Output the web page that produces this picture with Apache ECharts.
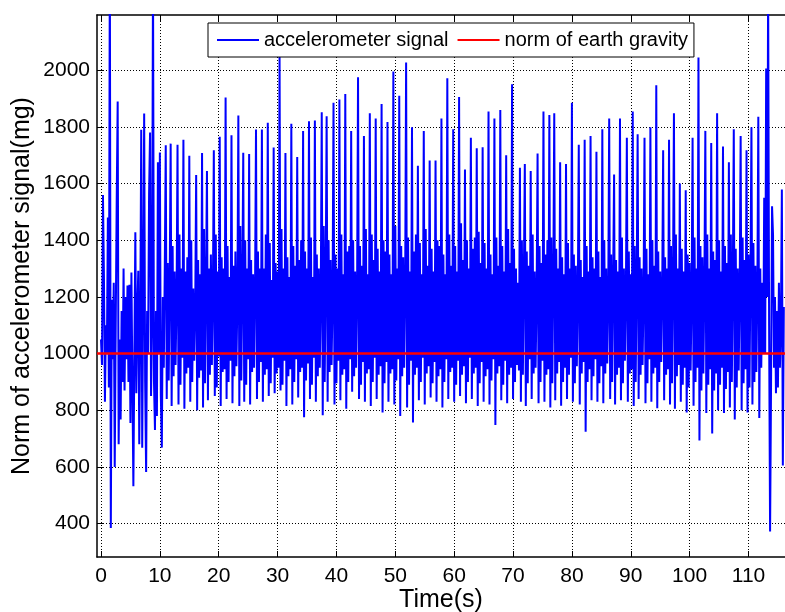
<!DOCTYPE html>
<html>
<head>
<meta charset="utf-8">
<script src="https://cdn.jsdelivr.net/npm/echarts@6.0.0/dist/echarts.min.js"></script>
<style>
html,body{margin:0;padding:0;background:#fff;}
#chart{width:785px;height:612px;}
</style>
</head>
<body>
<div id="chart"></div>
<script>
// ---------------- data ----------------
const sampleRate = 6; // samples per second of the accelerometer signal
const seriesNames = ['accelerometer signal', 'norm of earth gravity'];
// norm of accelerometer signal (mg), one line ~ one step cycle
const accelSignal = [
  1050, 960, 1560, 1270, 830, 1100, 1000, 1480, 880, 2400,
  384, 1190, 980, 1250, 600, 1100, 1540, 1890, 680, 1050,
  767, 1150, 900, 1300, 870, 1200, 980, 1240, 900, 1243,
  755, 1286, 900, 532, 1000, 1428, 860, 1150, 1292, 680,
  1100, 1790, 668, 1200, 1847, 900, 582, 1150, 1000, 1564,
  1780, 850, 1100, 2350, 900, 730, 1150, 780, 1675, 1000,
  1710, 850, 668, 1200, 950, 1300,
  1735, 840, 1320, 905, 1250,
  1741, 815, 1380, 920, 1290, 960, 1180,
  1737, 820, 1420, 890, 1300, 985,
  1755, 805, 1290, 930, 1340, 950,
  1698, 830, 1400, 900, 1230, 975, 1150,
  1630, 800, 1330, 915, 1280, 940,
  1708, 810, 1440, 895, 1240,
  1644, 835, 1300, 925, 1350, 960, 1200,
  1718, 850, 1420, 880, 1290, 990,
  1765, 815, 1340, 935, 1300, 945,
  1904, 840, 1380, 900, 1270, 975,
  1771, 825, 1310, 920, 1360, 955, 1180,
  1840, 815, 1450, 905, 1230,
  1709, 830, 1400, 890, 1300, 980,
  1704, 820, 1330, 935, 1280, 950, 1220,
  1791, 840, 1360, 900, 1300, 970,
  1791, 830, 1300, 925, 1420, 945,
  1815, 850, 1390, 895, 1260, 985,
  1727, 860, 1320, 930, 1290, 950,
  2050, 870, 1440, 890, 1300, 975,
  1708, 815, 1340, 920, 1270, 945,
  1811, 820, 1380, 900, 1310, 980,
  1694, 845, 1330, 935, 1400, 950,
  1786, 775, 1360, 905, 1300, 965,
  1820, 840, 1410, 890, 1270, 985,
  1823, 830, 1350, 920, 1300, 950, 1200,
  1852, 782, 1450, 900, 1260,
  1838, 830, 1400, 935, 1330, 960, 1180,
  1885, 820, 1350, 895, 1300, 975,
  1897, 835, 1420, 925, 1280, 945,
  1916, 805, 1360, 900, 1380, 980,
  1786, 865, 1400, 920, 1290, 950, 1200,
  1975, 840, 1380, 890, 1310, 970,
  1768, 830, 1440, 930, 1280, 945,
  1848, 815, 1420, 900, 1330, 985,
  1830, 840, 1370, 925, 1290, 955,
  1881, 792, 1400, 895, 1360, 970,
  1817, 830, 1350, 930, 1280, 945,
  1996, 820, 1450, 905, 1300, 980,
  1910, 780, 1380, 920, 1340, 950, 1210,
  2027, 810, 1410, 890, 1290, 975,
  1799, 757, 1360, 925, 1420, 950,
  1663, 835, 1390, 900, 1280, 985,
  1786, 820, 1440, 930, 1310, 955,
  1681, 845, 1370, 895, 1290, 970,
  1681, 830, 1400, 920, 1380, 945,
  1830, 810, 1350, 900, 1280, 980,
  1972, 840, 1420, 935, 1310, 950,
  1792, 830, 1380, 890, 1290, 975,
  1906, 850, 1460, 925, 1330, 955,
  1650, 825, 1400, 900, 1300, 985,
  1762, 840, 1370, 930, 1410, 950,
  1725, 815, 1430, 895, 1320, 970,
  1728, 830, 1390, 920, 1300, 945,
  1854, 820, 1350, 905, 1280, 980,
  1830, 748, 1410, 930, 1310, 955,
  1860, 835, 1380, 890, 1290, 975,
  1700, 825, 1440, 925, 1320, 950,
  1951, 840, 1370, 900, 1300, 960, 1250, 940,
  1656, 830, 1400, 925, 1270,
  1669, 815, 1360, 895, 1310, 980,
  1644, 840, 1420, 930, 1290, 950, 1200,
  1706, 825, 1380, 900, 1320, 975,
  1854, 830, 1350, 925, 1400, 945,
  1842, 810, 1410, 895, 1250,
  1848, 835, 1370, 930, 1300, 970,
  1675, 816, 1340, 900, 1280, 950,
  1669, 840, 1390, 925, 1300, 985,
  1885, 830, 1350, 895, 1310, 955, 1200,
  1737, 820, 1330, 930, 1270, 970,
  1755, 724, 1380, 900, 1290, 945,
  1768, 835, 1340, 920, 1300, 980,
  1712, 830, 1360, 895, 1270, 955,
  1792, 825, 1400, 930, 1300, 965, 1180,
  1830, 840, 1350, 900, 1260,
  1632, 820, 1330, 925, 1290, 950,
  1830, 835, 1410, 895, 1300, 975, 1200,
  1762, 830, 1360, 930, 1280, 945,
  1854, 815, 1380, 900, 1250,
  1774, 840, 1340, 925, 1300, 960, 1190,
  1762, 825, 1370, 895, 1280, 980,
  1799, 830, 1400, 930, 1310, 950,
  1947, 807, 1360, 900, 1290, 970, 1210,
  1718, 835, 1340, 925, 1300, 945,
  1755, 820, 1380, 895, 1250,
  1848, 805, 1420, 920, 1300, 960,
  1600, 830, 1370, 890, 1290, 950,
  1576, 792, 1350, 880, 1320, 940, 1200,
  1762, 816, 1410, 900, 1300, 950,
  2045, 693, 1380, 870, 1340, 930, 1230,
  1786, 790, 1420, 890, 1300, 945,
  1743, 718, 1360, 870, 1330, 930,
  1848, 800, 1400, 890, 1290, 950,
  1731, 790, 1380, 875, 1320, 935,
  1675, 810, 1420, 900, 1260,
  1792, 767, 1370, 880, 1300, 940, 1220,
  1768, 800, 1410, 895, 1330, 945,
  1718, 792, 1350, 880, 1280,
  1799, 820, 1390, 900, 1310, 935, 1210,
  1836, 773, 1300, 950, 1250, 1000, 1550, 1000, 2006, 1200,
  2300, 1100, 372, 900, 1520, 1420, 950, 1200, 860, 1150,
  880, 1250, 950, 1100, 1579, 605, 1164
];
const gravityTime = [-0.68, 116.2];
const gravityValue = [1000, 1000];
const xTickValues = [0, 10, 20, 30, 40, 50, 60, 70, 80, 90, 100, 110];
const yTickValues = [400, 600, 800, 1000, 1200, 1400, 1600, 1800, 2000];
const xRange = [-0.68, 116.2];
const yRange = [282, 2195];

// ---------------- chart ----------------
const FONT = '"Liberation Sans", Arial, Helvetica, sans-serif';
const chart = echarts.init(document.getElementById('chart'), null, {renderer: 'canvas'});

const accelData = accelSignal.map((v, i) => [i / sampleRate, v]);
const gravityData = gravityTime.map((t, i) => [t, gravityValue[i]]);

const gridLine = {show: true, lineStyle: {color: '#000', width: 1, type: [1, 2]}};
const plain = v => String(v);

const option = {
  animation: false,
  backgroundColor: '#fff',
  textStyle: {fontFamily: FONT},
  grid: {left: 97, right: 0, top: 15, bottom: 55, containLabel: false, outerBoundsMode: 'none'},
  legend: {
    left: 208, top: 23,
    padding: [7, 6, 7, 9],
    itemGap: 9, itemWidth: 42, itemHeight: 2,
    icon: 'rect',
    backgroundColor: '#fff', borderColor: '#000', borderWidth: 1, borderRadius: 0,
    textStyle: {fontSize: 20, lineHeight: 20, color: '#000', fontFamily: FONT},
    data: seriesNames
  },
  xAxis: [{
    type: 'value', min: xRange[0], max: xRange[1], position: 'bottom',
    name: 'Time(s)', nameLocation: 'middle', nameGap: 31, nameMoveOverlap: false,
    nameTextStyle: {fontSize: 25, color: '#000', fontFamily: FONT},
    axisLine: {show: true, onZero: false, lineStyle: {color: '#000', width: 1.5}},
    axisTick: {show: true, inside: true, length: 6, customValues: xTickValues, lineStyle: {color: '#000', width: 1}},
    axisLabel: {show: true, customValues: xTickValues, formatter: plain, fontSize: 21, color: '#000', margin: 9, fontFamily: FONT},
    splitLine: gridLine
  }, {
    type: 'value', min: xRange[0], max: xRange[1], position: 'top',
    axisLine: {show: true, onZero: false, lineStyle: {color: '#000', width: 1.5}},
    axisTick: {show: true, inside: true, length: 6, customValues: xTickValues, lineStyle: {color: '#000', width: 1}},
    axisLabel: {show: false},
    splitLine: {show: false}
  }],
  yAxis: [{
    type: 'value', min: yRange[0], max: yRange[1], position: 'left',
    name: 'Norm of accelerometer signal(mg)', nameLocation: 'middle', nameGap: 62, nameMoveOverlap: false,
    nameTextStyle: {fontSize: 25, color: '#000', fontFamily: FONT},
    axisLine: {show: true, onZero: false, lineStyle: {color: '#000', width: 1.5}},
    axisTick: {show: true, inside: true, length: 6, customValues: yTickValues, lineStyle: {color: '#000', width: 1}},
    axisLabel: {show: true, customValues: yTickValues, formatter: plain, fontSize: 21, color: '#000', margin: 7, fontFamily: FONT},
    splitLine: gridLine
  }],
  series: [{
    name: seriesNames[0], type: 'line', xAxisIndex: 0, yAxisIndex: 0,
    data: accelData, symbol: 'none', showSymbol: false,
    lineStyle: {color: '#0000FF', width: 2}, itemStyle: {color: '#0000FF'},
    clip: true
  }, {
    name: seriesNames[1], type: 'line', xAxisIndex: 0, yAxisIndex: 0,
    data: gravityData, symbol: 'none', showSymbol: false,
    lineStyle: {color: '#FF0000', width: 2.5}, itemStyle: {color: '#FF0000'},
    clip: true
  }]
};
chart.setOption(option);
</script>
</body>
</html>
